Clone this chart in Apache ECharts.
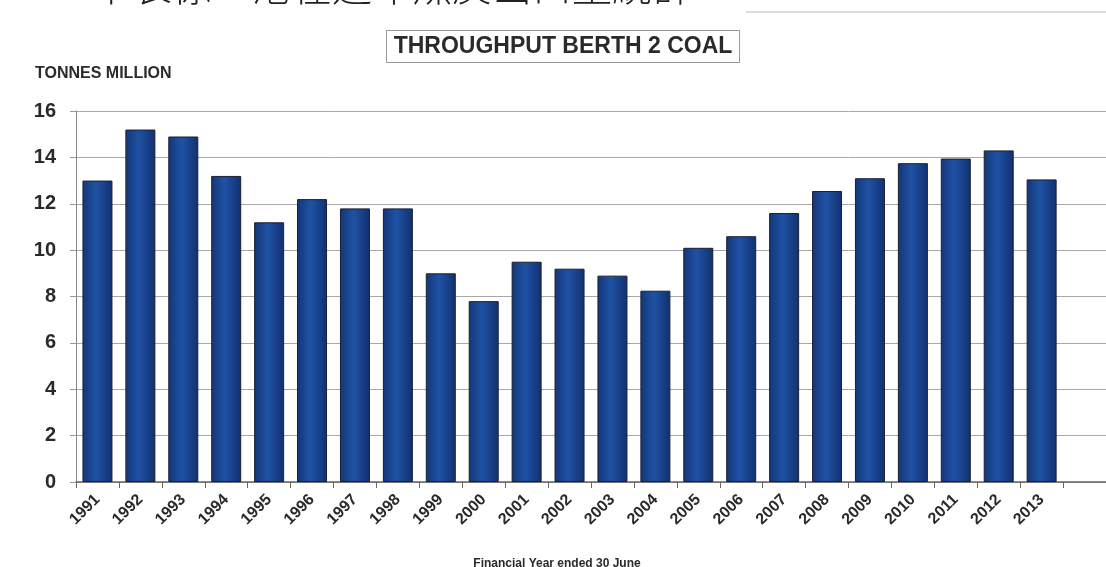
<!DOCTYPE html>
<html>
<head>
<meta charset="utf-8">
<style>
  html, body { margin: 0; padding: 0; background: #fff; }
  #container { width: 1106px; height: 567px; }
</style>
<script src="https://cdn.jsdelivr.net/npm/echarts@6/dist/echarts.min.js"></script>
</head>
<body>
<div id="container"></div>
<script>
// 数据
var years = ['1991', '1992', '1993', '1994', '1995', '1996', '1997', '1998', '1999', '2000', '2001', '2002',
  '2003', '2004', '2005', '2006', '2007', '2008', '2009', '2010', '2011', '2012', '2013'];
var tonnes = [13.0, 15.2, 14.9, 13.2, 11.2, 12.2, 11.8, 11.8, 9.0, 7.8, 9.5, 9.2,
  8.9, 8.25, 10.1, 10.6, 11.6, 12.55, 13.1, 13.75, 13.95, 14.3, 13.05];
var yTicks = [0, 2, 4, 6, 8, 10, 12, 14, 16];

var myTitle = 'THROUGHPUT BERTH 2 COAL';
var yName = 'TONNES MILLION';
var xName = 'Financial Year ended 30 June';
var topNote = '下表係二港在過年煤炭出口量統計';

var dom = document.getElementById('container');
var myChart = echarts.init(dom, null, { renderer: 'canvas' });

var option = {
  backgroundColor: '#fff',
  animation: false,
  grid: { left: 76, right: 0, top: 111, bottom: 85, containLabel: false },
  graphic: [
    // 顶部被裁掉的中文
    {
      type: 'text', left: 92, top: -34, silent: true,
      style: { text: topNote, fill: '#222', font: '300 40px "Noto Sans CJK TC"' }
    },
    {
      type: 'line', silent: true,
      shape: { x1: 746, y1: 12, x2: 1106, y2: 12 },
      style: { stroke: '#bbb', lineWidth: 1 }
    },
    // 标题框
    {
      type: 'rect', silent: true,
      shape: { x: 386.5, y: 30.5, width: 353, height: 32 },
      style: { fill: '#fff', stroke: '#999', lineWidth: 1 }
    },
    {
      type: 'text', silent: true, x: 563, y: 47,
      style: { text: myTitle, fill: '#2a2a2a', font: 'bold 23px "Liberation Sans", Arial',
        align: 'center', verticalAlign: 'middle' }
    },
    {
      type: 'text', silent: true, x: 35, y: 74,
      style: { text: yName, fill: '#2a2a2a', font: 'bold 16px "Liberation Sans", Arial',
        verticalAlign: 'middle' }
    },
    {
      type: 'text', silent: true, x: 557, y: 564,
      style: { text: xName, fill: '#2a2a2a', font: 'bold 12px "Liberation Sans", Arial',
        align: 'center', verticalAlign: 'middle' }
    }
  ],
  xAxis: {
    type: 'category',
    data: years,
    max: years.length, // 右侧多留一格空位
    boundaryGap: true,
    axisLine: { lineStyle: { color: '#666', width: 1.5 } },
    axisTick: { show: true, alignWithLabel: false, length: 6, lineStyle: { color: '#666' } },
    axisLabel: {
      rotate: 45, interval: 0, margin: 15,
      color: '#2a2a2a', fontSize: 16, fontWeight: 'bold', fontFamily: '"Liberation Sans", Arial',
      formatter: function (v) { return v ? v : ''; }
    },
    splitLine: { show: false }
  },
  yAxis: {
    type: 'value',
    min: yTicks[0],
    max: yTicks[yTicks.length - 1],
    interval: 2,
    axisLine: { show: true, lineStyle: { color: '#888' } },
    axisTick: { show: true, length: 6, lineStyle: { color: '#999' } },
    axisLabel: { color: '#2a2a2a', fontSize: 20, fontWeight: 'bold', fontFamily: '"Liberation Sans", Arial', margin: 20 },
    splitLine: { lineStyle: { color: '#a8a8a8', width: 1 } }
  },
  series: [{
    type: 'bar',
    data: tonnes,
    barWidth: 30,
    itemStyle: {
      color: new echarts.graphic.LinearGradient(0, 0, 1, 0, [
        { offset: 0, color: '#143678' },
        { offset: 0.45, color: '#1f52a4' },
        { offset: 1, color: '#123070' }
      ]),
      borderColor: '#1b1f2e',
      borderWidth: 1
    }
  }]
};

myChart.setOption(option);
window.addEventListener('resize', myChart.resize);
</script>
</body>
</html>
